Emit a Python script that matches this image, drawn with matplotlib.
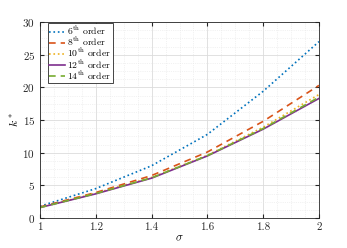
import matplotlib
matplotlib.use("Agg")
import matplotlib.pyplot as plt
import numpy as np

plt.rcParams["font.family"] = "serif"
plt.rcParams["font.serif"] = ["cmr10", "DejaVu Serif"]
plt.rcParams["mathtext.fontset"] = "cm"
plt.rcParams["axes.formatter.use_mathtext"] = True

# ── Data ──────────────────────────────────────────────────────────────────────
sigma = [1.0, 1.2, 1.4, 1.6, 1.8, 2.0]
k_6 = [1.8, 4.5, 8.0, 12.8, 19.4, 27.0]
k_8 = [1.7, 3.9, 6.5, 10.1, 14.8, 20.3]
k_10 = [1.6, 3.8, 6.2, 9.6, 13.9, 18.9]
k_12 = [1.6, 3.7, 6.1, 9.5, 13.6, 18.3]
k_14 = [1.6, 3.75, 6.15, 9.55, 13.7, 18.5]
labels = ["$6^{\\rm th}\\ \\rm order$", "$8^{\\rm th}\\ \\rm order$",
          "$10^{\\rm th}\\ \\rm order$", "$12^{\\rm th}\\ \\rm order$",
          "$14^{\\rm th}\\ \\rm order$"]

fig = plt.figure(figsize=(3.47, 2.48), dpi=100)
ax = fig.add_axes([40 / 347, 30 / 248, 279 / 347, 196 / 248])

ax.plot(sigma, k_6, color="#0072BD", linestyle=":", linewidth=1.2, label=labels[0])
ax.plot(sigma, k_8, color="#D95319", linestyle=(0, (4, 3)), linewidth=1.2, label=labels[1])
ax.plot(sigma, k_10, color="#EDB120", linestyle=":", linewidth=1.2, label=labels[2])
ax.plot(sigma, k_12, color="#7E2F8E", linestyle="-", linewidth=1.2, label=labels[3])
ax.plot(sigma, k_14, color="#77AC30", linestyle=(0, (4, 3)), linewidth=1.2, label=labels[4])

ax.set_xlim(1, 2)
ax.set_ylim(0, 30)
ax.set_xticks([1, 1.2, 1.4, 1.6, 1.8, 2])
ax.set_xticklabels(["1", "1.2", "1.4", "1.6", "1.8", "2"])
ax.set_yticks([0, 5, 10, 15, 20, 25, 30])
ax.set_xticks(np.arange(1, 2.0001, 0.05), minor=True)
ax.set_yticks(np.arange(0, 30.001, 1.25), minor=True)
ax.grid(True, which="major", color="#dcdcdc", linewidth=0.6)
ax.grid(True, which="minor", color="#e6e6e6", linewidth=0.5, linestyle=":")
ax.set_axisbelow(True)
ax.tick_params(which="both", direction="in", top=True, right=True, labelsize=8,
               colors="#262626", length=3)
ax.tick_params(which="minor", length=0)
for s in ax.spines.values():
    s.set_edgecolor("#262626")
    s.set_linewidth(0.6)

ax.set_xlabel("$\\sigma$", fontsize=8.5, labelpad=1)
ax.set_ylabel("$k^*$", fontsize=8.5, labelpad=2)

leg = ax.legend(loc="upper left", bbox_to_anchor=(0.025, 1.0), fontsize=7,
                frameon=True, fancybox=False,
                edgecolor="#262626", framealpha=1, borderpad=0.15, labelspacing=-0.15,
                handlelength=1.6, handletextpad=0.25, borderaxespad=0.1)
leg.get_frame().set_linewidth(0.6)

plt.savefig("out.png", dpi=100)
